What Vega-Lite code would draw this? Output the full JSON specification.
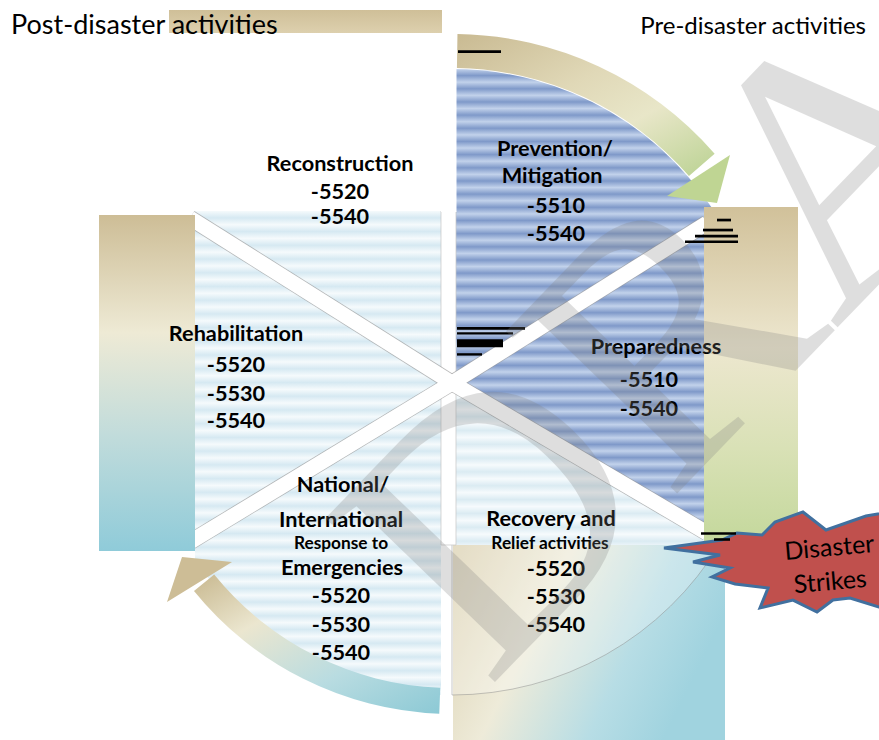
{
  "$schema": "https://vega.github.io/schema/vega-lite/v6.json",
  "width": 879,
  "height": 740,
  "padding": 0,
  "autosize": {"type": "none"},
  "background": "white",
  "config": {"view": {"stroke": null}},
  "datasets": {
    "rects": [
      {"id": "A", "x": 195, "x2": 441, "y": 211, "y2": 705},
      {"id": "B", "x": 456, "x2": 705, "y": 382, "y2": 548},
      {"id": "gapTop", "x": 441, "x2": 456.5, "y": 28, "y2": 212},
      {"id": "gap", "x": 441, "x2": 456, "y": 211, "y2": 545},
      {"id": "bottom", "x": 453, "x2": 725, "y": 545, "y2": 740},
      {"id": "rbar", "x": 704, "x2": 798, "y": 207, "y2": 542},
      {"id": "lbar", "x": 99, "x2": 195, "y": 215, "y2": 551},
      {"id": "hdr", "x": 169, "x2": 442, "y": 10, "y2": 33}
    ],
    "arcs": [
      {"id": "ring", "x": 452, "y": 382, "t0": 180, "t1": 270, "r0": 313, "r1": 470},
      {"id": "blue", "x": 452, "y": 382, "t0": 0, "t1": 121, "r0": 0, "r1": 313},
      {"id": "overlay", "x": 452, "y": 382, "t0": 121, "t1": 180, "r0": 0, "r1": 313},
      {"id": "topArrow", "x": 452, "y": 382, "t0": 0.9, "t1": 49, "r0": 314, "r1": 348},
      {"id": "botArrow", "x": 452, "y": 382, "t0": 182.2, "t1": 231, "r0": 306, "r1": 332}
    ],
    "bands": [
      {"x": 452, "y": 383, "x2": 707, "y2": 223},
      {"x": 452, "y": 383, "x2": 707, "y2": 533},
      {"x": 452, "y": 383, "x2": 190, "y2": 218},
      {"x": 452, "y": 383, "x2": 190, "y2": 542}
    ],
    "heads": [
      {"id": "top", "x": 698.5, "y": 179},
      {"id": "bot", "x": 199.5, "y": 579.5}
    ],
    "star": [{"x": 775, "y": 562}],
    "bars": [
      {"x": 458, "x2": 501, "y": 50.3, "y2": 53},
      {"x": 717, "x2": 731, "y": 218.7, "y2": 221.4},
      {"x": 703, "x2": 733, "y": 228.7, "y2": 231.4},
      {"x": 695, "x2": 738, "y": 234.7, "y2": 237.4},
      {"x": 685, "x2": 738, "y": 240.4, "y2": 243.1},
      {"x": 457, "x2": 525, "y": 327, "y2": 329.7},
      {"x": 457, "x2": 513, "y": 332.2, "y2": 334.6},
      {"x": 457, "x2": 503, "y": 339.3, "y2": 347.3},
      {"x": 457, "x2": 482, "y": 353.2, "y2": 355.6},
      {"x": 701, "x2": 736, "y": 532.2, "y2": 534.8},
      {"x": 714, "x2": 730, "y": 538.2, "y2": 540.8}
    ],
    "labels": [
      {"g": "b", "x": 340, "y": 171, "text": "Reconstruction"},
      {"g": "b", "x": 340, "y": 199, "text": "-5520"},
      {"g": "b", "x": 340, "y": 224, "text": "-5540"},
      {"g": "b", "x": 555, "y": 156, "text": "Prevention/"},
      {"g": "b", "x": 552, "y": 183, "text": "Mitigation"},
      {"g": "b", "x": 556, "y": 213, "text": "-5510"},
      {"g": "b", "x": 556, "y": 241, "text": "-5540"},
      {"g": "b", "x": 656, "y": 354, "text": "Preparedness"},
      {"g": "b", "x": 649, "y": 387, "text": "-5510"},
      {"g": "b", "x": 649, "y": 416, "text": "-5540"},
      {"g": "b", "x": 236, "y": 341, "text": "Rehabilitation"},
      {"g": "b", "x": 236, "y": 372, "text": "-5520"},
      {"g": "b", "x": 236, "y": 401, "text": "-5530"},
      {"g": "b", "x": 236, "y": 428, "text": "-5540"},
      {"g": "b", "x": 343, "y": 492, "text": "National/"},
      {"g": "b", "x": 341, "y": 527, "text": "International"},
      {"g": "b", "x": 342, "y": 575, "text": "Emergencies"},
      {"g": "b", "x": 341, "y": 603, "text": "-5520"},
      {"g": "b", "x": 341, "y": 632, "text": "-5530"},
      {"g": "b", "x": 341, "y": 660, "text": "-5540"},
      {"g": "b", "x": 551, "y": 526, "text": "Recovery and"},
      {"g": "b", "x": 556, "y": 576, "text": "-5520"},
      {"g": "b", "x": 556, "y": 604, "text": "-5530"},
      {"g": "b", "x": 556, "y": 632, "text": "-5540"},
      {"g": "s", "x": 341, "y": 549, "text": "Response to"},
      {"g": "s", "x": 550, "y": 549, "text": "Relief activities"},
      {"g": "hl", "x": 11, "y": 34, "text": "Post-disaster activities"},
      {"g": "hr", "x": 866, "y": 34, "text": "Pre-disaster activities"},
      {"g": "st", "x": 830, "y": 556, "text": "Disaster"},
      {"g": "st", "x": 831, "y": 590, "text": "Strikes"},
      {"g": "wm", "x": 820, "y": 190, "text": "DRAFT"}
    ]
  },
  "encoding": {
    "x": {"field": "x", "type": "quantitative", "scale": {"domain": [0, 879], "nice": false, "zero": false}, "axis": null},
    "y": {"field": "y", "type": "quantitative", "scale": {"domain": [0, 740], "nice": false, "zero": false, "reverse": true}, "axis": null}
  },
  "layer": [
    {
      "data": {"name": "rects"},
      "transform": [{"filter": "datum.id === 'A'"}],
      "mark": {"type": "rect", "fill": {"gradient": "linear", "x1": 0, "y1": 0, "x2": 0, "y2": 1, "stops": [
        {"offset": 0, "color": "#f5fafc"}, {"offset": 0.0139, "color": "#d6e9f2"}, {"offset": 0.0278, "color": "#f5fafc"}, {"offset": 0.0417, "color": "#d6e9f2"}, {"offset": 0.0556, "color": "#f5fafc"}, {"offset": 0.0694, "color": "#d6e9f2"}, {"offset": 0.0833, "color": "#f5fafc"}, {"offset": 0.0972, "color": "#d6e9f2"}, {"offset": 0.1111, "color": "#f5fafc"}, {"offset": 0.125, "color": "#d6e9f2"}, {"offset": 0.1389, "color": "#f5fafc"}, {"offset": 0.1528, "color": "#d6e9f2"}, {"offset": 0.1667, "color": "#f5fafc"}, {"offset": 0.1806, "color": "#d6e9f2"}, {"offset": 0.1944, "color": "#f5fafc"}, {"offset": 0.2083, "color": "#d6e9f2"}, {"offset": 0.2222, "color": "#f5fafc"}, {"offset": 0.2361, "color": "#d6e9f2"}, {"offset": 0.25, "color": "#f5fafc"}, {"offset": 0.2639, "color": "#d6e9f2"}, {"offset": 0.2778, "color": "#f5fafc"}, {"offset": 0.2917, "color": "#d6e9f2"}, {"offset": 0.3056, "color": "#f5fafc"}, {"offset": 0.3194, "color": "#d6e9f2"}, {"offset": 0.3333, "color": "#f5fafc"}, {"offset": 0.3472, "color": "#d6e9f2"}, {"offset": 0.3611, "color": "#f5fafc"}, {"offset": 0.375, "color": "#d6e9f2"}, {"offset": 0.3889, "color": "#f5fafc"}, {"offset": 0.4028, "color": "#d6e9f2"}, {"offset": 0.4167, "color": "#f5fafc"}, {"offset": 0.4306, "color": "#d6e9f2"}, {"offset": 0.4444, "color": "#f5fafc"}, {"offset": 0.4583, "color": "#d6e9f2"}, {"offset": 0.4722, "color": "#f5fafc"}, {"offset": 0.4861, "color": "#d6e9f2"}, {"offset": 0.5, "color": "#f5fafc"}, {"offset": 0.5139, "color": "#d6e9f2"}, {"offset": 0.5278, "color": "#f5fafc"}, {"offset": 0.5417, "color": "#d6e9f2"}, {"offset": 0.5556, "color": "#f5fafc"}, {"offset": 0.5694, "color": "#d6e9f2"}, {"offset": 0.5833, "color": "#f5fafc"}, {"offset": 0.5972, "color": "#d6e9f2"}, {"offset": 0.6111, "color": "#f5fafc"}, {"offset": 0.625, "color": "#d6e9f2"}, {"offset": 0.6389, "color": "#f5fafc"}, {"offset": 0.6528, "color": "#d6e9f2"}, {"offset": 0.6667, "color": "#f5fafc"}, {"offset": 0.6806, "color": "#d6e9f2"}, {"offset": 0.6944, "color": "#f5fafc"}, {"offset": 0.7083, "color": "#d6e9f2"}, {"offset": 0.7222, "color": "#f5fafc"}, {"offset": 0.7361, "color": "#d6e9f2"}, {"offset": 0.75, "color": "#f5fafc"}, {"offset": 0.7639, "color": "#d6e9f2"}, {"offset": 0.7778, "color": "#f5fafc"}, {"offset": 0.7917, "color": "#d6e9f2"}, {"offset": 0.8056, "color": "#f5fafc"}, {"offset": 0.8194, "color": "#d6e9f2"}, {"offset": 0.8333, "color": "#f5fafc"}, {"offset": 0.8472, "color": "#d6e9f2"}, {"offset": 0.8611, "color": "#f5fafc"}, {"offset": 0.875, "color": "#d6e9f2"}, {"offset": 0.8889, "color": "#f5fafc"}, {"offset": 0.9028, "color": "#d6e9f2"}, {"offset": 0.9167, "color": "#f5fafc"}, {"offset": 0.9306, "color": "#d6e9f2"}, {"offset": 0.9444, "color": "#f5fafc"}, {"offset": 0.9583, "color": "#d6e9f2"}, {"offset": 0.9722, "color": "#f5fafc"}, {"offset": 0.9861, "color": "#d6e9f2"}, {"offset": 1, "color": "#f5fafc"}
      ]}},
      "encoding": {"x2": {"field": "x2"}, "y2": {"field": "y2"}}
    },
    {
      "data": {"name": "rects"},
      "transform": [{"filter": "datum.id === 'B'"}],
      "mark": {"type": "rect", "fill": {"gradient": "linear", "x1": 0, "y1": 0, "x2": 0, "y2": 1, "stops": [
        {"offset": 0, "color": "#f3f9fc"}, {"offset": 0.0417, "color": "#cde4ee"}, {"offset": 0.0833, "color": "#f3f9fc"}, {"offset": 0.125, "color": "#cde4ee"}, {"offset": 0.1667, "color": "#f3f9fc"}, {"offset": 0.2083, "color": "#cde4ee"}, {"offset": 0.25, "color": "#f3f9fc"}, {"offset": 0.2917, "color": "#cde4ee"}, {"offset": 0.3333, "color": "#f3f9fc"}, {"offset": 0.375, "color": "#cde4ee"}, {"offset": 0.4167, "color": "#f3f9fc"}, {"offset": 0.4583, "color": "#cde4ee"}, {"offset": 0.5, "color": "#f3f9fc"}, {"offset": 0.5417, "color": "#cde4ee"}, {"offset": 0.5833, "color": "#f3f9fc"}, {"offset": 0.625, "color": "#cde4ee"}, {"offset": 0.6667, "color": "#f3f9fc"}, {"offset": 0.7083, "color": "#cde4ee"}, {"offset": 0.75, "color": "#f3f9fc"}, {"offset": 0.7917, "color": "#cde4ee"}, {"offset": 0.8333, "color": "#f3f9fc"}, {"offset": 0.875, "color": "#cde4ee"}, {"offset": 0.9167, "color": "#f3f9fc"}, {"offset": 0.9583, "color": "#cde4ee"}, {"offset": 1, "color": "#f3f9fc"}
      ]}},
      "encoding": {"x2": {"field": "x2"}, "y2": {"field": "y2"}}
    },
    {
      "data": {"name": "arcs"},
      "transform": [{"filter": "datum.id === 'ring'"}],
      "mark": {"type": "arc", "fill": "white"},
      "encoding": {
        "theta": {"field": "t0", "type": "quantitative", "scale": {"type": "linear", "domain": [0, 360], "range": [0, 6.283185307]}},
        "theta2": {"field": "t1"},
        "radius": {"field": "r1", "type": "quantitative", "scale": {"type": "linear", "domain": [0, 500], "range": [0, 500], "zero": true}},
        "radius2": {"field": "r0"}
      }
    },
    {
      "data": {"name": "arcs"},
      "transform": [{"filter": "datum.id === 'blue'"}],
      "mark": {"type": "arc", "fill": {"gradient": "linear", "x1": 0, "y1": 0, "x2": 0, "y2": 1, "stops": [
        {"offset": 0, "color": "#c2d2eb"}, {"offset": 0.0139, "color": "#7f99c9"}, {"offset": 0.0278, "color": "#c2d2eb"}, {"offset": 0.0417, "color": "#7f99c9"}, {"offset": 0.0556, "color": "#c2d2eb"}, {"offset": 0.0694, "color": "#7f99c9"}, {"offset": 0.0833, "color": "#c2d2eb"}, {"offset": 0.0972, "color": "#7f99c9"}, {"offset": 0.1111, "color": "#c2d2eb"}, {"offset": 0.125, "color": "#7f99c9"}, {"offset": 0.1389, "color": "#c2d2eb"}, {"offset": 0.1528, "color": "#7f99c9"}, {"offset": 0.1667, "color": "#c2d2eb"}, {"offset": 0.1806, "color": "#7f99c9"}, {"offset": 0.1944, "color": "#c2d2eb"}, {"offset": 0.2083, "color": "#7f99c9"}, {"offset": 0.2222, "color": "#c2d2eb"}, {"offset": 0.2361, "color": "#7f99c9"}, {"offset": 0.25, "color": "#c2d2eb"}, {"offset": 0.2639, "color": "#7f99c9"}, {"offset": 0.2778, "color": "#c2d2eb"}, {"offset": 0.2917, "color": "#7f99c9"}, {"offset": 0.3056, "color": "#c2d2eb"}, {"offset": 0.3194, "color": "#7f99c9"}, {"offset": 0.3333, "color": "#c2d2eb"}, {"offset": 0.3472, "color": "#7f99c9"}, {"offset": 0.3611, "color": "#c2d2eb"}, {"offset": 0.375, "color": "#7f99c9"}, {"offset": 0.3889, "color": "#c2d2eb"}, {"offset": 0.4028, "color": "#7f99c9"}, {"offset": 0.4167, "color": "#c2d2eb"}, {"offset": 0.4306, "color": "#7f99c9"}, {"offset": 0.4444, "color": "#c2d2eb"}, {"offset": 0.4583, "color": "#7f99c9"}, {"offset": 0.4722, "color": "#c2d2eb"}, {"offset": 0.4861, "color": "#7f99c9"}, {"offset": 0.5, "color": "#c2d2eb"}, {"offset": 0.5139, "color": "#7f99c9"}, {"offset": 0.5278, "color": "#c2d2eb"}, {"offset": 0.5417, "color": "#7f99c9"}, {"offset": 0.5556, "color": "#c2d2eb"}, {"offset": 0.5694, "color": "#7f99c9"}, {"offset": 0.5833, "color": "#c2d2eb"}, {"offset": 0.5972, "color": "#7f99c9"}, {"offset": 0.6111, "color": "#c2d2eb"}, {"offset": 0.625, "color": "#7f99c9"}, {"offset": 0.6389, "color": "#c2d2eb"}, {"offset": 0.6528, "color": "#7f99c9"}, {"offset": 0.6667, "color": "#c2d2eb"}, {"offset": 0.6806, "color": "#7f99c9"}, {"offset": 0.6944, "color": "#c2d2eb"}, {"offset": 0.7083, "color": "#7f99c9"}, {"offset": 0.7222, "color": "#c2d2eb"}, {"offset": 0.7361, "color": "#7f99c9"}, {"offset": 0.75, "color": "#c2d2eb"}, {"offset": 0.7639, "color": "#7f99c9"}, {"offset": 0.7778, "color": "#c2d2eb"}, {"offset": 0.7917, "color": "#7f99c9"}, {"offset": 0.8056, "color": "#c2d2eb"}, {"offset": 0.8194, "color": "#7f99c9"}, {"offset": 0.8333, "color": "#c2d2eb"}, {"offset": 0.8472, "color": "#7f99c9"}, {"offset": 0.8611, "color": "#c2d2eb"}, {"offset": 0.875, "color": "#7f99c9"}, {"offset": 0.8889, "color": "#c2d2eb"}, {"offset": 0.9028, "color": "#7f99c9"}, {"offset": 0.9167, "color": "#c2d2eb"}, {"offset": 0.9306, "color": "#7f99c9"}, {"offset": 0.9444, "color": "#c2d2eb"}, {"offset": 0.9583, "color": "#7f99c9"}, {"offset": 0.9722, "color": "#c2d2eb"}, {"offset": 0.9861, "color": "#7f99c9"}, {"offset": 1, "color": "#c2d2eb"}
      ]}},
      "encoding": {
        "theta": {"field": "t0", "type": "quantitative", "scale": {"type": "linear", "domain": [0, 360], "range": [0, 6.283185307]}},
        "theta2": {"field": "t1"},
        "radius": {"field": "r1", "type": "quantitative", "scale": {"type": "linear", "domain": [0, 500], "range": [0, 500], "zero": true}},
        "radius2": {"field": "r0"}
      }
    },
    {
      "data": {"name": "rects"},
      "transform": [{"filter": "datum.id === 'bottom'"}],
      "mark": {"type": "rect", "fill": {"gradient": "linear", "x1": 0, "y1": 0, "x2": 1, "y2": 0.35, "stops": [
        {"offset": 0, "color": "#dacfae"}, {"offset": 0.4, "color": "#eeebd9"}, {"offset": 0.75, "color": "#b7dde5"}, {"offset": 1, "color": "#a0d3df"}
      ]}},
      "encoding": {"x2": {"field": "x2"}, "y2": {"field": "y2"}}
    },
    {
      "data": {"name": "arcs"},
      "transform": [{"filter": "datum.id === 'overlay'"}],
      "mark": {"type": "arc", "fill": "white", "fillOpacity": 0.28, "stroke": "#8a8a8a", "strokeWidth": 0.8, "strokeOpacity": 0.6},
      "encoding": {
        "theta": {"field": "t0", "type": "quantitative", "scale": {"type": "linear", "domain": [0, 360], "range": [0, 6.283185307]}},
        "theta2": {"field": "t1"},
        "radius": {"field": "r1", "type": "quantitative", "scale": {"type": "linear", "domain": [0, 500], "range": [0, 500], "zero": true}},
        "radius2": {"field": "r0"}
      }
    },
    {
      "data": {"name": "rects"},
      "transform": [{"filter": "datum.id === 'gap'"}],
      "mark": {"type": "rect", "fill": "white", "stroke": "#c4c4c4", "strokeWidth": 0.7},
      "encoding": {"x2": {"field": "x2"}, "y2": {"field": "y2"}}
    },
    {
      "data": {"name": "rects"},
      "transform": [{"filter": "datum.id === 'gapTop'"}],
      "mark": {"type": "rect", "fill": "white"},
      "encoding": {"x2": {"field": "x2"}, "y2": {"field": "y2"}}
    },
    {
      "data": {"name": "bands"},
      "mark": {"type": "rule", "color": "#9c9c9c", "strokeWidth": 16.5, "opacity": 0.7},
      "encoding": {"x2": {"field": "x2"}, "y2": {"field": "y2"}}
    },
    {
      "data": {"name": "bands"},
      "mark": {"type": "rule", "color": "white", "strokeWidth": 15},
      "encoding": {"x2": {"field": "x2"}, "y2": {"field": "y2"}}
    },
    {
      "data": {"name": "rects"},
      "transform": [{"filter": "datum.id === 'rbar'"}],
      "mark": {"type": "rect", "fill": {"gradient": "linear", "x1": 0, "y1": 0, "x2": 0, "y2": 1, "stops": [
        {"offset": 0, "color": "#d1c19a"}, {"offset": 0.42, "color": "#ede7cf"}, {"offset": 0.72, "color": "#d9e1b6"}, {"offset": 1, "color": "#c4d89c"}
      ]}},
      "encoding": {"x2": {"field": "x2"}, "y2": {"field": "y2"}}
    },
    {
      "data": {"name": "rects"},
      "transform": [{"filter": "datum.id === 'lbar'"}],
      "mark": {"type": "rect", "fill": {"gradient": "linear", "x1": 0, "y1": 0, "x2": 0, "y2": 1, "stops": [
        {"offset": 0, "color": "#cdbd96"}, {"offset": 0.35, "color": "#eeead5"}, {"offset": 0.65, "color": "#c2dcdb"}, {"offset": 1, "color": "#8fcbd9"}
      ]}},
      "encoding": {"x2": {"field": "x2"}, "y2": {"field": "y2"}}
    },
    {
      "data": {"name": "rects"},
      "transform": [{"filter": "datum.id === 'hdr'"}],
      "mark": {"type": "rect", "fill": {"gradient": "linear", "x1": 0, "y1": 0, "x2": 0, "y2": 1, "stops": [
        {"offset": 0, "color": "#cfbf98"}, {"offset": 1, "color": "#ddd0ae"}
      ]}},
      "encoding": {"x2": {"field": "x2"}, "y2": {"field": "y2"}}
    },
    {
      "data": {"name": "arcs"},
      "transform": [{"filter": "datum.id === 'topArrow'"}],
      "mark": {"type": "arc", "fill": {"gradient": "linear", "x1": 0, "y1": 0, "x2": 1, "y2": 1, "stops": [
        {"offset": 0, "color": "#c9ba92"}, {"offset": 0.4, "color": "#e0d8b7"}, {"offset": 0.65, "color": "#e8e6c8"}, {"offset": 1, "color": "#bad292"}
      ]}},
      "encoding": {
        "theta": {"field": "t0", "type": "quantitative", "scale": {"type": "linear", "domain": [0, 360], "range": [0, 6.283185307]}},
        "theta2": {"field": "t1"},
        "radius": {"field": "r1", "type": "quantitative", "scale": {"type": "linear", "domain": [0, 500], "range": [0, 500], "zero": true}},
        "radius2": {"field": "r0"}
      }
    },
    {
      "data": {"name": "arcs"},
      "transform": [{"filter": "datum.id === 'botArrow'"}],
      "mark": {"type": "arc", "fill": {"gradient": "linear", "x1": 0, "y1": 0, "x2": 1, "y2": 1, "stops": [
        {"offset": 0, "color": "#c8b88f"}, {"offset": 0.3, "color": "#ebe6cf"}, {"offset": 0.65, "color": "#b9dce1"}, {"offset": 1, "color": "#8cc9d5"}
      ]}},
      "encoding": {
        "theta": {"field": "t0", "type": "quantitative", "scale": {"type": "linear", "domain": [0, 360], "range": [0, 6.283185307]}},
        "theta2": {"field": "t1"},
        "radius": {"field": "r1", "type": "quantitative", "scale": {"type": "linear", "domain": [0, 500], "range": [0, 500], "zero": true}},
        "radius2": {"field": "r0"}
      }
    },
    {
      "data": {"name": "heads"},
      "transform": [{"filter": "datum.id === 'top'"}],
      "mark": {"type": "point", "shape": "M-0.63,0.34L0.63,-0.48L0.37,0.48Z", "filled": true, "fill": "#bfd593", "strokeWidth": 0, "size": 10000, "opacity": 1}
    },
    {
      "data": {"name": "heads"},
      "transform": [{"filter": "datum.id === 'bot'"}],
      "mark": {"type": "point", "shape": "M-0.35,-0.45L0.65,-0.35L-0.65,0.45Z", "filled": true, "fill": "#cdbd96", "strokeWidth": 0, "size": 10000, "opacity": 1}
    },
    {
      "data": {"name": "star"},
      "mark": {"type": "point", "shape": "M-0.925,-0.117L-0.442,-0.183L-0.317,-0.242L-0.108,-0.225L0,-0.333L0.233,-0.417L0.425,-0.267L0.758,-0.383L1.042,-0.433L1.083,0.417L0.867,0.375L0.625,0.3L0.483,0.317L0.35,0.417L0.15,0.317L-0.125,0.383L-0.058,0.217L-0.333,0.183L-0.525,0.125L-0.375,0.05L-0.683,0L-0.458,-0.058Z", "filled": true, "fill": "#c0504d", "stroke": "#41709f", "strokeWidth": 3, "size": 57600, "opacity": 1}
    },
    {
      "data": {"name": "bars"},
      "mark": {"type": "rect", "color": "black"},
      "encoding": {"x2": {"field": "x2"}, "y2": {"field": "y2"}}
    },
    {
      "data": {"name": "labels"},
      "transform": [{"filter": "datum.g === 'b'"}],
      "mark": {"type": "text", "font": "Lato", "fontWeight": "bold", "fontSize": 21.7, "align": "center", "baseline": "alphabetic", "color": "black"},
      "encoding": {"text": {"field": "text"}}
    },
    {
      "data": {"name": "labels"},
      "transform": [{"filter": "datum.g === 's'"}],
      "mark": {"type": "text", "font": "Lato", "fontWeight": "bold", "fontSize": 17.3, "align": "center", "baseline": "alphabetic", "color": "black"},
      "encoding": {"text": {"field": "text"}}
    },
    {
      "data": {"name": "labels"},
      "transform": [{"filter": "datum.g === 'hl'"}],
      "mark": {"type": "text", "font": "Lato", "fontSize": 27, "align": "left", "baseline": "alphabetic", "color": "black"},
      "encoding": {"text": {"field": "text"}}
    },
    {
      "data": {"name": "labels"},
      "transform": [{"filter": "datum.g === 'hr'"}],
      "mark": {"type": "text", "font": "Lato", "fontSize": 24, "align": "right", "baseline": "alphabetic", "color": "black"},
      "encoding": {"text": {"field": "text"}}
    },
    {
      "data": {"name": "labels"},
      "transform": [{"filter": "datum.g === 'st'"}],
      "mark": {"type": "text", "font": "Lato", "fontSize": 25, "align": "center", "baseline": "alphabetic", "angle": -5, "color": "black"},
      "encoding": {"text": {"field": "text"}}
    },
    {
      "data": {"name": "labels"},
      "transform": [{"filter": "datum.g === 'wm'"}],
      "mark": {"type": "text", "font": "Liberation Serif", "fontSize": 360, "align": "center", "baseline": "middle", "angle": -46, "color": "#7f7f7f", "opacity": 0.25},
      "encoding": {"text": {"field": "text"}}
    }
  ]
}
